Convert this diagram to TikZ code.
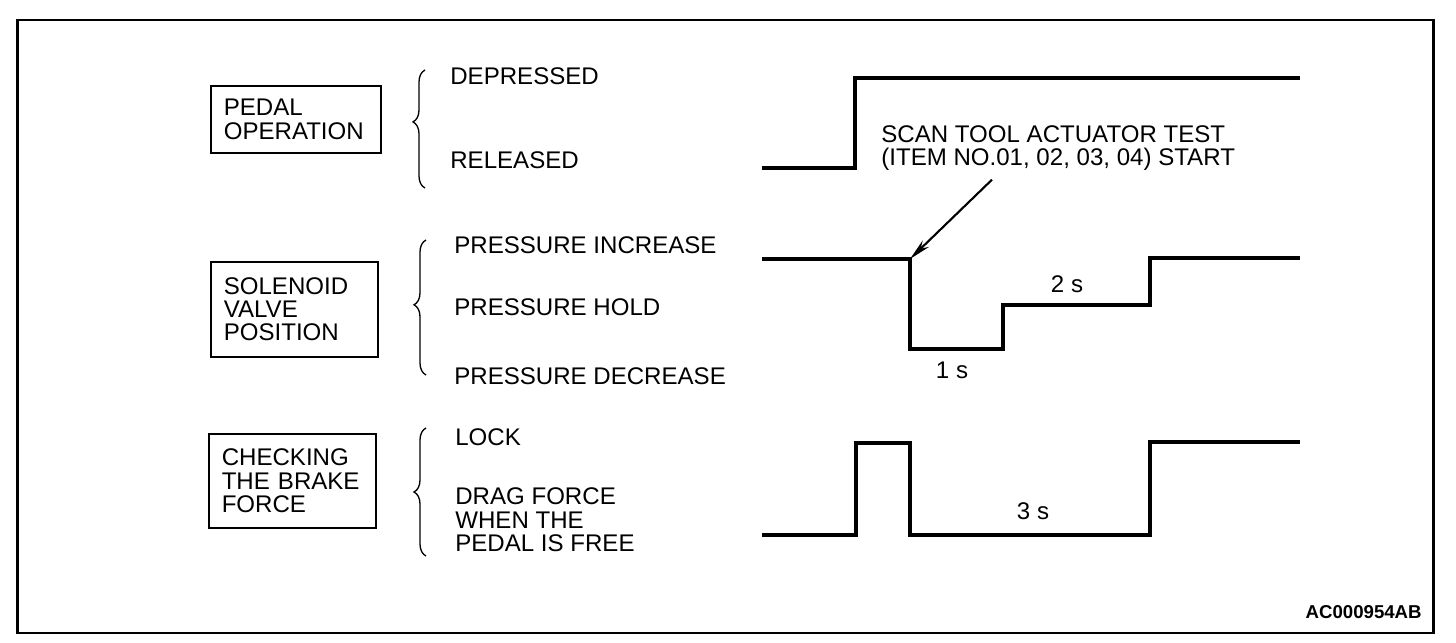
\documentclass[tikz,border=0pt]{standalone}
\usepackage{fontspec}
\setmainfont{Liberation Sans}
\usetikzlibrary{arrows.meta,decorations.pathreplacing,positioning}

\tikzset{
  lbl/.style={font=\fontsize{13.7}{13.3}\selectfont, inner sep=0pt, anchor=west, align=left},
  groupbox/.style={draw, line width=0.9pt, font=\fontsize{13.7}{13.3}\selectfont,
    align=left, anchor=north west, inner xsep=0.26cm, inner ysep=0pt},
  signal/.style={line width=1.8pt, line join=miter},
  levelbrace/.style={decorate, line width=0.75pt},
  pointer/.style={line width=1.2pt, -{Stealth[length=0.44cm,width=0.18cm]}},
}

\begin{document}
\begin{tikzpicture}[x=0.02cm, y=-0.02cm]
    \useasboundingbox (0,0) rectangle (1456,642);
    % Draw the outer frame
    \draw[line width=1.5pt] (17.5,20) rectangle (1433.5,633);

    % Draw the three boxes on the left side
    \node[groupbox, text width=2.88cm, minimum height=1.34cm] (pedal) at (210,85) {PEDAL\\OPERATION};
    \node[groupbox, text width=2.82cm, minimum height=1.9cm] (valve) at (210,261) {SOLENOID\\VALVE\\POSITION};
    \node[groupbox, text width=2.82cm, minimum height=1.88cm] (brake) at (208,433) {CHECKING\\THE BRAKE\\FORCE};

    % Add the braces in front of the levels
    \draw[levelbrace, decoration={brace, amplitude=0.24cm, aspect=0.56}] (425,188) -- (425,70);
    \draw[levelbrace, decoration={brace, amplitude=0.24cm, aspect=0.52}] (426,375) -- (426,240);
    \draw[levelbrace, decoration={brace, amplitude=0.24cm, aspect=0.5}] (426,556) -- (426,428);

    % Add the level names
    \node[lbl] (depressed) at (450,76.5) {DEPRESSED};
    \node[lbl] (released) at (450,160) {RELEASED};
    \node[lbl] (increase) at (454,245) {PRESSURE INCREASE};
    \node[lbl] (hold) at (454,307) {PRESSURE HOLD};
    \node[lbl] (decrease) at (454,376) {PRESSURE DECREASE};
    \node[lbl] (lock) at (455,437) {LOCK};
    \node[lbl] (drag) at (455,520) {DRAG FORCE\\WHEN THE\\PEDAL IS FREE};

    % Draw the pedal signal
    \draw[signal] (762,168) -- (855,168) -- (855,78) -- (1300,78);

    % Draw the solenoid valve signal
    \draw[signal] (762,259) -- (910,259) -- (910,349) -- (1003,349)
      -- (1003,305) -- (1150,305) -- (1150,258) -- (1300,258);
    \coordinate (start) at (910,259);

    % Draw the brake force signal
    \draw[signal] (762,535) -- (856,535) -- (856,443) -- (910,443)
      -- (910,535) -- (1150,535) -- (1150,442) -- (1300,442);

    % Add scan tool label with arrow pointing to the start of the test
    \node[lbl, font=\fontsize{13.7}{13}\selectfont] (scan) at (881,148)
      {SCAN TOOL ACTUATOR TEST\\(ITEM NO.01, 02, 03, 04) START};
    \draw[pointer] ([xshift=2.22cm,yshift=-0.18cm]scan.south west) -- (start);

    % Add the durations
    \node[lbl, anchor=center] (onesec) at (952,370) {1 s};
    \node[lbl, anchor=center] (twosec) at (1067,284) {2 s};
    \node[lbl, anchor=center] (threesec) at (1033,511) {3 s};

    % Add the figure number
    \node[inner sep=0pt, anchor=east, font=\fontsize{10.6}{12}\selectfont\bfseries] (code) at (1422,612) {AC000954AB};
\end{tikzpicture}
\end{document}
